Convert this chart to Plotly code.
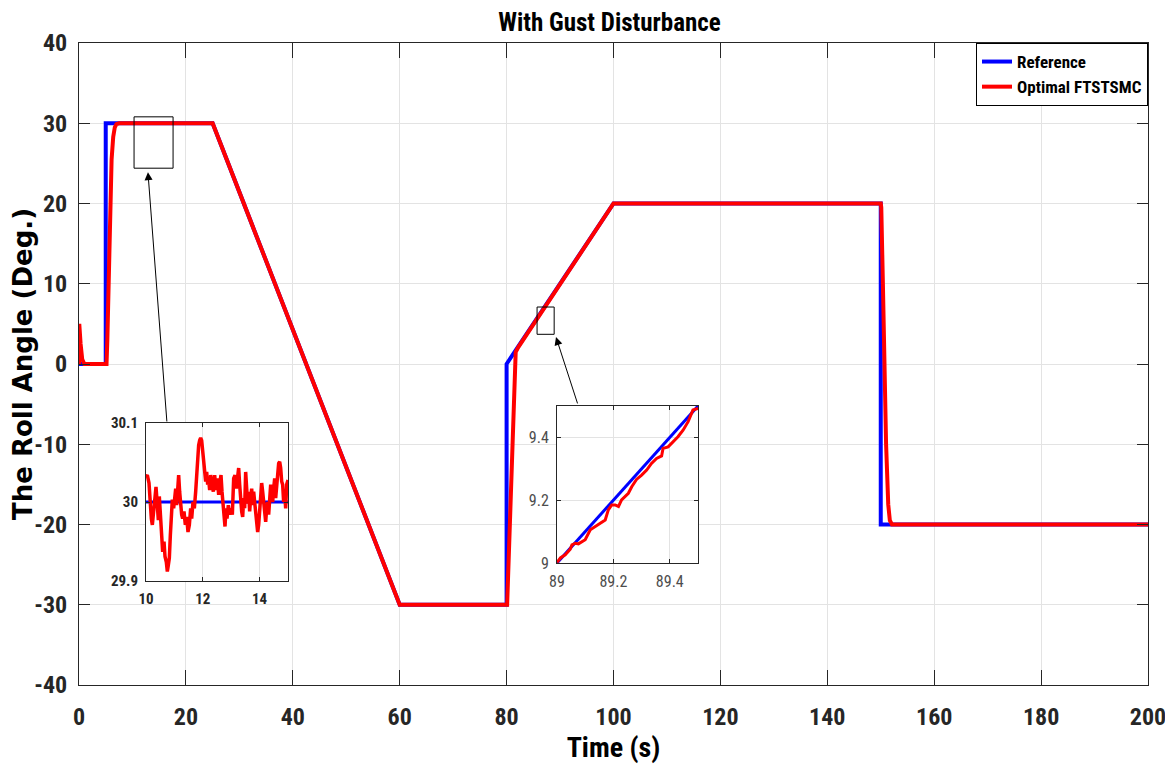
import plotly.graph_objects as go

# ---------------- data ----------------
ref_t = [0, 5, 5, 25, 60, 80, 80, 100, 150, 150, 200]
ref_y = [0, 0, 30, 30, -30, -30, 0, 20, 20, -20, -20]

opt_t = [0, 0.05, 0.3, 0.6, 1.0, 5.15, 5.3, 5.5, 5.8, 6.1, 6.4, 6.7, 7.0, 7.5, 25, 60,
         80.1, 80.5, 81.0, 81.4, 81.7, 82.2, 100, 150, 150.1, 150.4, 150.65, 151.0,
         151.4, 151.7, 152.1, 200]
opt_y = [0, 5, 2.5, 0.6, 0, 0, 3, 10, 20, 25.5, 28.3, 29.5, 29.9, 30, 30, -30,
         -30, -22, -12, -4, 1.5, 2.1, 20, 20, 19.5, 10, 0, -10,
         -17.5, -19.5, -20, -20]

# inset 1 (zoom on 10..15 s)
in1_ref_t = [10, 15]
in1_ref_y = [30, 30]
in1_opt_t = [10.000, 10.047, 10.106, 10.141, 10.188, 10.223, 10.258, 10.305, 10.352, 10.399, 10.434, 10.469,
             10.516, 10.552, 10.587, 10.634, 10.669, 10.716, 10.751, 10.786, 10.822, 10.857, 10.892, 10.927,
             10.974, 11.009, 11.045, 11.080, 11.115, 11.150, 11.185, 11.221, 11.256, 11.291, 11.338, 11.385,
             11.432, 11.479, 11.526, 11.573, 11.608, 11.655, 11.702, 11.749, 11.784, 11.819, 11.854, 11.890,
             11.925, 11.960, 11.995, 12.031, 12.066, 12.101, 12.136, 12.171, 12.207, 12.242, 12.277, 12.324,
             12.371, 12.418, 12.465, 12.512, 12.559, 12.606, 12.641, 12.676, 12.711, 12.746, 12.782, 12.817,
             12.852, 12.899, 12.946, 12.993, 13.040, 13.087, 13.134, 13.181, 13.228, 13.263, 13.298, 13.333,
             13.369, 13.404, 13.439, 13.474, 13.509, 13.545, 13.580, 13.615, 13.650, 13.685, 13.721, 13.756,
             13.791, 13.826, 13.862, 13.897, 13.932, 13.967, 14.002, 14.038, 14.073, 14.108, 14.143, 14.178,
             14.214, 14.249, 14.284, 14.319, 14.354, 14.390, 14.425, 14.460, 14.495, 14.531, 14.566, 14.601,
             14.636, 14.671, 14.707, 14.742, 14.777, 14.812, 14.847, 14.883, 14.918, 14.953, 15.000]
in1_opt_y = [30.032, 30.034, 30.024, 30.000, 29.979, 29.971, 29.984, 30.000, 30.019, 29.996, 29.977, 30.007,
             29.971, 29.952, 29.937, 29.950, 29.931, 29.924, 29.912, 29.920, 29.929, 29.958, 29.992, 30.003,
             29.992, 30.007, 30.017, 29.996, 30.030, 30.034, 30.013, 29.992, 29.984, 29.979, 29.988, 29.971,
             29.981, 29.962, 29.971, 29.992, 29.979, 30.000, 29.992, 30.013, 30.038, 30.059, 30.072, 30.078,
             30.081, 30.078, 30.064, 30.051, 30.043, 30.026, 30.038, 30.022, 30.028, 30.015, 30.034, 30.026,
             30.013, 30.034, 30.015, 30.030, 30.009, 30.026, 30.034, 30.013, 29.996, 29.984, 29.969, 29.992,
             29.979, 29.996, 29.984, 29.992, 29.984, 30.030, 30.034, 30.017, 30.038, 30.043, 30.022, 30.000,
             29.988, 29.981, 30.005, 29.992, 30.038, 30.017, 29.998, 30.013, 29.988, 30.005, 30.017, 29.996,
             30.013, 30.000, 29.988, 29.971, 29.962, 29.971, 29.992, 30.000, 30.024, 30.013, 30.000, 29.984,
             29.975, 29.992, 30.000, 29.984, 30.013, 30.022, 30.013, 30.000, 30.017, 30.030, 30.005, 30.022,
             30.038, 30.049, 30.051, 30.043, 30.026, 30.022, 30.000, 30.013, 29.992, 30.022, 30.028]

# inset 2 (zoom on 89..89.5 s)
in2_ref_t = [89, 89.5]
in2_ref_y = [9, 9.5]
in2_opt_t = [89.000, 89.012, 89.029, 89.047, 89.053, 89.065, 89.076, 89.088, 89.100, 89.118, 89.135,
             89.153, 89.171, 89.182, 89.194, 89.206, 89.218, 89.229, 89.241, 89.253, 89.265, 89.282,
             89.300, 89.318, 89.335, 89.353, 89.371, 89.376, 89.394, 89.412, 89.429, 89.447, 89.465,
             89.482, 89.500]
in2_opt_y = [9.002, 9.016, 9.026, 9.044, 9.058, 9.063, 9.061, 9.067, 9.074, 9.106, 9.116,
             9.129, 9.137, 9.169, 9.185, 9.185, 9.180, 9.201, 9.211, 9.222, 9.243, 9.266,
             9.280, 9.296, 9.317, 9.333, 9.341, 9.365, 9.370, 9.386, 9.402, 9.423, 9.450,
             9.487, 9.492]

x_ticks = [0, 20, 40, 60, 80, 100, 120, 140, 160, 180, 200]
x_labels = ["0", "20", "40", "60", "80", "100", "120", "140", "160", "180", "200"]
y_ticks = [-40, -30, -20, -10, 0, 10, 20, 30, 40]
y_labels = ["-40", "-30", "-20", "-10", "0", "10", "20", "30", "40"]
in1_xticks = [10, 12, 14]
in1_xlabels = ["10", "12", "14"]
in1_yticks = [29.9, 30, 30.1]
in1_ylabels = ["29.9", "30", "30.1"]
in2_xticks = [89, 89.2, 89.4]
in2_xlabels = ["89", "89.2", "89.4"]
in2_yticks = [9, 9.2, 9.4]
in2_ylabels = ["9", "9.2", "9.4"]

# ---------------- style ----------------
NARROW = "Roboto Condensed, Liberation Sans Narrow, Arial Narrow, sans-serif"
DARK = "#262626"
GRID = "#e3e3e3"
BLUE = "#0000ff"
RED = "#ff0000"

OFF = 8                      # page body margin offset
W, H = 1173, 765
ML, MR, MT, MB = 79 - OFF, 25 + OFF, 43 - OFF, 80 + OFF
PW = W - ML - MR
PH = H - MT - MB


def px_x(p):
    return (p - OFF - ML) / PW


def px_y(p):
    return (H - MB - (p - OFF)) / PH


fig = go.Figure()

fig.add_trace(go.Scatter(x=ref_t, y=ref_y, mode="lines", name="Reference",
                         line=dict(color=BLUE, width=4), xaxis="x", yaxis="y"))
fig.add_trace(go.Scatter(x=opt_t, y=opt_y, mode="lines", name="Optimal FTSTSMC",
                         line=dict(color=RED, width=4), xaxis="x", yaxis="y"))

fig.add_trace(go.Scatter(x=in1_ref_t, y=in1_ref_y, mode="lines", showlegend=False,
                         line=dict(color=BLUE, width=3), xaxis="x2", yaxis="y2"))
fig.add_trace(go.Scatter(x=in1_opt_t, y=in1_opt_y, mode="lines", showlegend=False,
                         line=dict(color=RED, width=3.5), xaxis="x2", yaxis="y2"))

fig.add_trace(go.Scatter(x=in2_ref_t, y=in2_ref_y, mode="lines", showlegend=False,
                         line=dict(color=BLUE, width=3), xaxis="x3", yaxis="y3"))
fig.add_trace(go.Scatter(x=in2_opt_t, y=in2_opt_y, mode="lines", showlegend=False,
                         line=dict(color=RED, width=3), xaxis="x3", yaxis="y3"))

main_font = dict(family=NARROW, size=24, color=DARK, weight="bold")

common_axis = dict(showline=True, linecolor=DARK, linewidth=1, mirror="ticks",
                   ticks="inside", tickcolor=DARK, showgrid=True, gridcolor=GRID,
                   gridwidth=1, zeroline=False, fixedrange=True, automargin=False)

fig.update_layout(
    width=W, height=H,
    margin=dict(l=ML, r=MR, t=MT, b=MB, autoexpand=False),
    paper_bgcolor="white", plot_bgcolor="white",
    title=dict(text="With Gust Disturbance", x=px_x(609.5), xref="paper", xanchor="center",
               y=1 - (22 - OFF) / H, yanchor="middle",
               font=dict(family=NARROW, size=25, color="black", weight="bold")),
    xaxis=dict(range=[0, 200], tickvals=x_ticks, ticktext=x_labels, ticklen=15, tickfont=main_font,
               ticklabelstandoff=10, domain=[0, 1],
               title=dict(text="Time (s)", standoff=6,
                          font=dict(family=NARROW, size=28, color="black", weight="bold")),
               **common_axis),
    yaxis=dict(range=[-40, 40], tickvals=y_ticks, ticktext=y_labels, ticklen=11, tickfont=main_font,
               ticklabelstandoff=6, domain=[0, 1],
               title=dict(text="The Roll Angle (Deg.)", standoff=6,
                          font=dict(family="DejaVu Sans", size=26, color="black", weight="bold")),
               **common_axis),
    xaxis2=dict(range=[10, 15], tickvals=in1_xticks, ticktext=in1_xlabels, ticklen=4, anchor="y2",
                domain=[px_x(146), px_x(288)], ticklabelstandoff=4,
                tickfont=dict(family=NARROW, size=15, color=DARK, weight="bold"), **common_axis),
    yaxis2=dict(range=[29.9, 30.1], tickvals=in1_yticks, ticktext=in1_ylabels, ticklen=4, anchor="x2",
                domain=[px_y(581), px_y(423)], ticklabelstandoff=4,
                tickfont=dict(family=NARROW, size=15, color=DARK, weight="bold"), **common_axis),
    xaxis3=dict(range=[89, 89.5], tickvals=in2_xticks, ticktext=in2_xlabels, ticklen=4, anchor="y3",
                domain=[px_x(557), px_x(698)], ticklabelstandoff=4,
                tickfont=dict(family=NARROW, size=16, color="#4d4d4d"), **common_axis),
    yaxis3=dict(range=[9, 9.5], tickvals=in2_yticks, ticktext=in2_ylabels, ticklen=4, anchor="x3",
                domain=[px_y(563), px_y(406)], ticklabelstandoff=4,
                tickfont=dict(family=NARROW, size=16, color="#4d4d4d"), **common_axis),
    legend=dict(x=1, y=1, xanchor="right", yanchor="top", bgcolor="white",
                bordercolor="black", borderwidth=1,
                font=dict(family=NARROW, size=17, color="black", weight="bold"),
                tracegroupgap=0, itemwidth=30),
    showlegend=True,
)

# white backgrounds for insets (hide main grid behind)
fig.add_shape(type="rect", xref="x2", yref="y2", x0=10, x1=15, y0=29.9, y1=30.1,
              fillcolor="white", line=dict(width=0), layer="below")
fig.add_shape(type="rect", xref="x3", yref="y3", x0=89, x1=89.5, y0=9, y1=9.5,
              fillcolor="white", line=dict(width=0), layer="below")

# zoom boxes on main axes
fig.add_shape(type="rect", xref="x", yref="y", x0=10.3, x1=17.6, y0=24.4, y1=30.8,
              line=dict(color="black", width=1), fillcolor="rgba(0,0,0,0)", layer="above")
fig.add_shape(type="rect", xref="x", yref="y", x0=85.7, x1=88.9, y0=3.7, y1=7.1,
              line=dict(color="black", width=1), fillcolor="rgba(0,0,0,0)", layer="above")

# arrows
fig.add_annotation(x=12.9, y=23.9, xref="x", yref="y", ax=16.46, ay=-7.35,
                   axref="x", ayref="y", text="", showarrow=True, arrowhead=2,
                   arrowsize=1.6, arrowwidth=1, arrowcolor="black", standoff=0)
fig.add_annotation(x=89.24, y=3.36, xref="x", yref="y", ax=93.36, ay=-5.1,
                   axref="x", ayref="y", text="", showarrow=True, arrowhead=2,
                   arrowsize=1.6, arrowwidth=1, arrowcolor="black", standoff=0)

fig.write_html("out.html")
